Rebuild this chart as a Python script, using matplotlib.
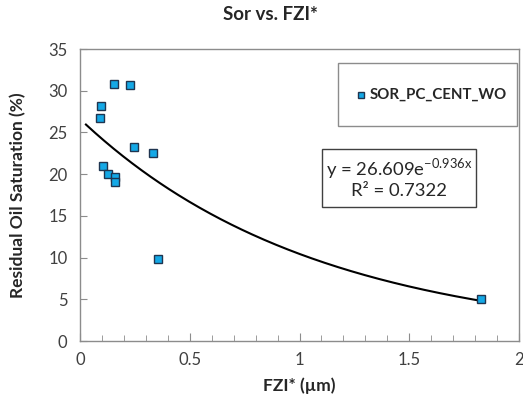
import numpy as np
import matplotlib
matplotlib.use("Agg")
import matplotlib.pyplot as plt
from matplotlib.ticker import MultipleLocator
from matplotlib.patches import Rectangle
from matplotlib.lines import Line2D

plt.rcParams['font.family'] = ['Lato', 'DejaVu Sans']
plt.rcParams['mathtext.fontset'] = 'custom'
plt.rcParams['mathtext.rm'] = 'Lato'

# FZI* (um) and residual oil saturation (%)
fzi = [0.157, 0.227, 0.096, 0.093, 0.248, 0.333, 0.106, 0.126, 0.160, 0.158, 0.355, 1.825]
sor = [30.8, 30.7, 28.2, 26.7, 23.3, 22.5, 21.0, 20.0, 19.6, 19.1, 9.8, 5.0]

# exponential trendline y = a * exp(b x)
fit_a = 26.609
fit_b = -0.936
fit_r2 = 0.7322
fit_xrange = [0.027, 1.825]

series_name = "SOR_PC_CENT_WO"
frame_color = "#8c8c8c"
text_color = "#404040"
dark = "#262626"
marker_fc = "#14A8E6"
marker_ec = "#1F3550"

fig = plt.figure(figsize=(5.23, 4.05), dpi=100)
ax = fig.add_axes([80 / 523, 1 - 341 / 405, 439 / 523, 292 / 405])

xs = np.linspace(fit_xrange[0], fit_xrange[1], 300)
ax.plot(xs, fit_a * np.exp(fit_b * xs), color="black", lw=1.5, zorder=2)

ax.plot(fzi, sor, ls="none", marker="s", ms=5.8, mfc=marker_fc, mec=marker_ec,
        mew=1.0, zorder=3)

ax.set_xlim(0, 2)
ax.set_ylim(0, 35)
ax.xaxis.set_minor_locator(MultipleLocator(0.1))
ax.yaxis.set_major_locator(MultipleLocator(5))
ax.set_xticks([0, 0.5, 1, 1.5, 2])
ax.set_xticklabels(["0", "0.5", "1", "1.5", "2"])

for s in ax.spines.values():
    s.set_color(frame_color)
    s.set_linewidth(1.0)

ax.tick_params(axis="x", which="major", direction="in", length=6, color=frame_color,
               labelsize=12, labelcolor=text_color, pad=8)
ax.tick_params(axis="x", which="minor", direction="in", length=4, color=frame_color)
ax.tick_params(axis="y", which="major", direction="in", length=5, color=frame_color,
               labelsize=12, labelcolor=text_color, pad=9)
ax.tick_params(top=False, right=False, which="both")

ax.set_xlabel("FZI* (µm)", fontsize=12.5, fontweight="bold", color=dark, labelpad=7)
ax.set_ylabel("Residual Oil Saturation (%)", fontsize=12.5, fontweight="bold",
              color=dark, labelpad=16)
fig.text(0.517, 0.963, "Sor vs. FZI*", ha="center", va="center", fontsize=13.5,
         fontweight="bold", color=dark)


def ax_px(x0, y0, x1, y1):
    # figure pixel box -> axes fraction lower-left corner, width, height
    fx0 = (x0 - 80) / 439
    fx1 = (x1 - 80) / 439
    fy0 = (341 - y1) / 292
    fy1 = (341 - y0) / 292
    return (fx0, fy0), fx1 - fx0, fy1 - fy0


# legend box
xy, w, h = ax_px(338, 63, 517, 126)
ax.add_patch(Rectangle(xy, w, h, transform=ax.transAxes, fc="white", ec=frame_color,
                       lw=1.0, zorder=4))
ax.add_line(Line2D([(361 - 80) / 439], [(341 - 94.5) / 292], transform=ax.transAxes,
                   ls="none", marker="s", ms=5.0, mfc=marker_fc, mec=marker_ec,
                   mew=1.0, zorder=5))
ax.text((369.5 - 80) / 439, (341 - 94.5) / 292, series_name, transform=ax.transAxes,
        ha="left", va="center", fontsize=10.8, fontweight="bold", color=dark, zorder=5)

# trendline equation box
xy, w, h = ax_px(322, 149, 476, 207)
ax.add_patch(Rectangle(xy, w, h, transform=ax.transAxes, fc="white", ec="#404040",
                       lw=1.0, zorder=4))
eq = f"y = {fit_a:.3f}e$^{{\\mathregular{{{fit_b:.3f}x}}}}$\nR² = {fit_r2:.4f}"
ax.text(xy[0] + w / 2, xy[1] + h / 2, eq, transform=ax.transAxes, ha="center",
        va="center", fontsize=13.3, color=dark, linespacing=1.15,
        multialignment="center", zorder=5)

fig.savefig("out.png", dpi=100)
